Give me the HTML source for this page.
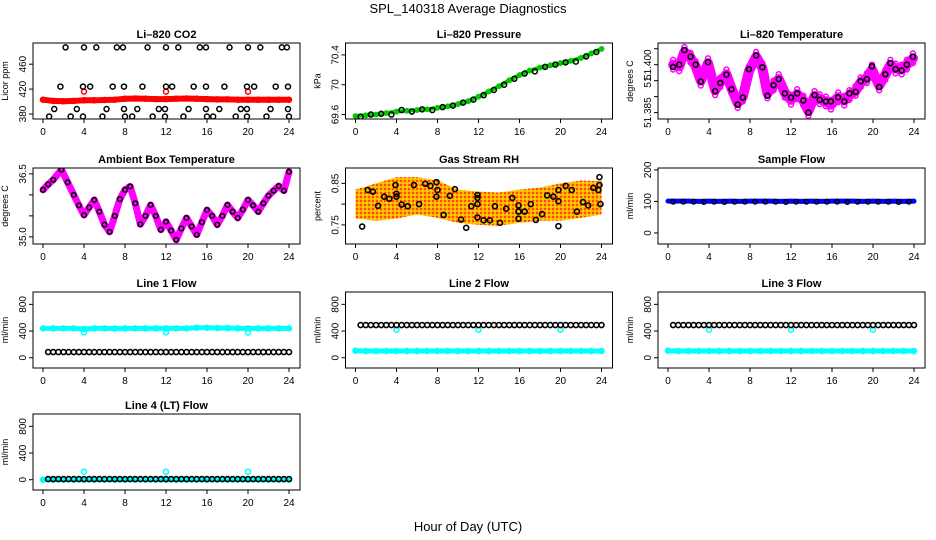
<!DOCTYPE html>
<html><head><meta charset="utf-8"><style>
body{margin:0;background:#fff}
svg{display:block;font-family:"Liberation Sans",sans-serif}
</style></head><body>
<svg id="c" width="936" height="540" viewBox="0 0 936 540">
<defs>
<pattern id="rhp" width="4" height="4" patternUnits="userSpaceOnUse"><rect width="4" height="4" fill="#ffb000"/><circle cx="1" cy="1" r="0.9" fill="#ff0000"/><circle cx="3" cy="3" r="0.7" fill="#ffee00"/></pattern>
</defs>
<text x="468" y="13" text-anchor="middle" font-size="13">SPL_140318  Average Diagnostics</text>
<text x="468" y="531" text-anchor="middle" font-size="13">Hour of Day (UTC)</text>
</svg>
<script>
// ---- data ----
const hours = [0,1,2,3,4,5,6,7,8,9,10,11,12,13,14,15,16,17,18,19,20,21,22,23,24];
const xTicks = [0,4,8,12,16,20,24];
const co2Red = [403,401,400.5,401,402,402,402.5,403,404.5,405,404.5,404,404,404.5,405,404.5,404,403.5,403.5,403,403,403,403,403,403];
const co2OutT = [4,12,20];
const co2OutV = [416,416,416];
const co2TopT = [2.2,4.0,5.2,7.2,7.8,10.2,12.0,13.2,15.3,15.9,18.2,20.0,21.2,23.3,23.8];
const co2MidT = [1.7,3.9,4.6,6.8,7.9,9.7,12.0,12.6,14.7,15.9,17.7,19.9,20.6,22.7,23.9];
const co2LowT = [1.1,3.3,6.2,7.9,9.2,11.3,11.9,14.2,15.9,17.2,19.3,19.9,22.2,23.9];
const co2BotT = [0.6,2.7,3.9,5.8,8.0,8.7,10.7,11.9,13.7,16.0,16.6,18.8,19.9,21.8,24.0];
const co2Levels = [487,424,388,376];
const co2Ticks = [380,420,460];
const presGreen = [69.58,69.59,69.60,69.62,69.64,69.65,69.66,69.67,69.69,69.71,69.74,69.78,69.84,69.91,69.98,70.06,70.13,70.19,70.23,70.26,70.29,70.32,70.36,70.42,70.48];
const presBlack = [69.57,69.60,69.61,69.60,69.66,69.64,69.67,69.66,69.70,69.72,69.76,69.80,69.86,69.93,70.00,70.08,70.15,70.18,70.24,70.27,70.30,70.31,70.38,70.44];
const presTicks = [69.6,70.0,70.4];
const tempT = [0.5,1.1,1.6,2.2,2.7,3.2,3.9,4.6,5.1,5.7,6.2,6.8,7.3,7.9,8.6,9.2,9.7,10.3,10.8,11.4,12.0,12.6,13.2,13.7,14.3,14.8,15.4,15.9,16.6,17.2,17.7,18.3,18.8,19.4,19.9,20.6,21.2,21.7,22.2,22.8,23.3,23.9];
const tempBlack = [51.3993,51.400,51.4046,51.4025,51.400,51.3947,51.4008,51.3917,51.3943,51.3969,51.3923,51.3875,51.3897,51.3986,51.4029,51.3992,51.3903,51.3936,51.3955,51.391,51.3897,51.391,51.3888,51.385,51.3905,51.389,51.3885,51.3885,51.3898,51.3885,51.391,51.3915,51.3948,51.3955,51.3995,51.393,51.397,51.4005,51.3986,51.3982,51.400,51.4025];
const tempMag = [51.400,51.3995,51.404,51.4022,51.3995,51.395,51.4005,51.392,51.3945,51.397,51.3925,51.388,51.390,51.398,51.4025,51.399,51.391,51.3935,51.3955,51.3912,51.389,51.3908,51.3888,51.3855,51.3902,51.3892,51.3885,51.3875,51.3898,51.3888,51.3905,51.3918,51.3945,51.3958,51.3985,51.3935,51.3968,51.4,51.3988,51.3985,51.4,51.402];
const tempTicks = [51.385,51.390,51.395,51.400,51.405];
const tempLabels = ["51.385","","51.","51.400",""];
const ambT = [0,0.5,1,1.8,2.4,3,3.5,4,4.5,5,5.5,6,6.5,7,7.5,8,8.5,9,9.5,10,10.5,11,11.5,12,12.5,13,13.5,14,14.5,15,15.5,16,16.5,17,17.5,18,18.5,19,19.5,20,20.5,21,21.5,22,22.5,23,23.5,24];
const ambV = [36.12,36.25,36.36,36.6,36.3,36.0,35.75,35.52,35.7,35.88,35.6,35.29,35.12,35.5,35.9,36.12,36.2,35.8,35.3,35.5,35.76,35.5,35.17,35.36,35.15,34.93,35.2,35.45,35.25,35.05,35.35,35.64,35.5,35.29,35.5,35.76,35.6,35.45,35.65,35.88,35.75,35.6,35.8,35.98,36.1,36.21,36.1,36.55];
const ambTicks = [35.0,35.5,36.0,36.5];
const ambLabels = ["35.0","","","36.5"];
const rhMeanT = [0,2,4,6,8,10,12,14,16,18,20,22,24];
const rhMean = [0.800,0.805,0.815,0.820,0.812,0.795,0.790,0.788,0.795,0.800,0.805,0.812,0.815];
const rhSpread = [0.035,0.045,0.05,0.045,0.045,0.04,0.04,0.04,0.04,0.04,0.045,0.045,0.04];
const rhT = [0.65,1.2,1.7,2.2,2.8,3.3,3.9,4.0,4.0,4.5,5.1,5.7,6.2,6.8,7.3,7.9,7.9,8.0,8.6,9.2,9.7,10.3,10.8,11.3,11.9,11.9,11.9,11.9,12.5,13.1,13.6,14.1,14.7,15.3,15.9,15.9,15.9,16.5,17.1,17.6,18.2,18.7,19.3,19.8,19.8,19.8,20.5,21.1,21.6,22.2,22.7,23.2,23.7,23.8,23.8,23.9];
const rhV = [0.746,0.834,0.830,0.796,0.818,0.813,0.846,0.825,0.818,0.799,0.795,0.846,0.80,0.849,0.844,0.853,0.818,0.834,0.774,0.82,0.836,0.763,0.743,0.795,0.768,0.822,0.80,0.815,0.761,0.761,0.795,0.755,0.789,0.815,0.782,0.797,0.765,0.782,0.80,0.762,0.776,0.821,0.818,0.747,0.807,0.834,0.844,0.834,0.782,0.805,0.797,0.839,0.834,0.865,0.846,0.80];
const rhTicks = [0.75,0.80,0.85];
const rhLabels = ["0.75","","0.85"];
const sampBlue = [101,101,101,100,101,100,101,100,101,101,101,100,101,100,101,100,101,101,101,100,101,100,101,100,101];
const sampBlack = [99,99,99,98,99,98,99,99,99,99,99,98,99,99,99,99,99,98,99,99,99,99,98,99];
const sampTicks = [0,100,200];
const flowTicks = [0,400,800];
const l1Cyan = [440,440,440,440,430,440,440,438,440,440,440,440,440,440,440,450,450,445,445,440,440,440,440,440,440];
const l1Black = [85,85,85,85,85,85,85,85,85,85,85,85,85,85,85,85,85,85,85,85,85,85,85,85];
const l2Black = [490,490,490,490,490,490,490,490,490,490,490,490,490,490,490,490,490,490,490,490,490,490,490,490];
const l2Cyan = [105,100,100,100,100,100,100,100,100,100,100,100,100,100,100,100,100,100,100,100,100,100,100,100,100];
const l3Black = [490,490,490,490,490,490,490,490,490,490,490,490,490,490,490,490,490,490,490,490,490,490,490,490];
const l3Cyan = [105,100,100,100,100,100,100,100,100,100,100,100,100,100,100,100,100,100,100,100,100,100,100,100,100];
const l4Black = [10,10,10,10,10,10,10,10,10,10,10,10,10,10,10,10,10,10,10,10,10,10,10,10];
const l4Cyan = [0,0,0,0,0,0,0,0,0,0,0,0,0,0,0,0,0,0,0,0,0,0,0,0,0];
const flowOutT = [4,12,20];
const l1Out = [380,380,380];
const l2Out = [420,420,420];
const l4Out = [120,120,120];
const halfT = [0.5,1.5,2.5,3.5,4.5,5.5,6.5,7.5,8.5,9.5,10.5,11.5,12.5,13.5,14.5,15.5,16.5,17.5,18.5,19.5,20.5,21.5,22.5,23.5];

// ---- drawing ----
const svg = document.getElementById('c');
const NS = 'http://www.w3.org/2000/svg';
const tops = [43,168,292,414];
function mk(tag, parent, attrs, name){
  const e = document.createElementNS(NS, tag);
  for (const k in attrs) e.setAttribute(k, attrs[k]);
  
  
  parent.appendChild(e);
  return e;
}
function panel(col,row,title,ytitle,ymin,ymax,yticks,ylabels,name){
  const L = 33 + col*312.5, T = tops[row], W = 267, H = 76;
  const g = mk('g', svg, {}, name);
  const P = {g, L, T, W, H,
    x: t => L + 10 + t*10.25,
    y: v => T + H - (v-ymin)/(ymax-ymin)*H};
  mk('text', g, {x:L+W/2, y:T-5, 'text-anchor':'middle', 'font-size':11, 'font-weight':'bold'}, name+'-title').textContent = title;
  const yl = mk('text', g, {x:0, y:0, 'text-anchor':'middle', 'font-size':9, transform:`translate(${L-25},${T+H/2}) rotate(-90)`}, name+'-y-title');
  yl.textContent = ytitle;
  xTicks.forEach(t => {
    mk('line', g, {x1:P.x(t), x2:P.x(t), y1:T+H, y2:T+H+4, stroke:'#000'}, 'x-tick');
    mk('text', g, {x:P.x(t), y:T+H+16, 'text-anchor':'middle', 'font-size':10}, 'x-tick-label').textContent = t;
  });
  yticks.forEach((v,i) => {
    const yy = P.y(v);
    mk('line', g, {x1:L-4, x2:L, y1:yy, y2:yy, stroke:'#000'}, 'y-tick');
    const lab = ylabels ? ylabels[i] : String(v);
    if (lab) mk('text', g, {x:0, y:0, 'text-anchor':'middle', 'font-size':10, transform:`translate(${L-7},${yy}) rotate(-90)`}, 'y-tick-label').textContent = lab;
  });
  const cp = mk('clipPath', g, {id:'cp'+name}, 'clip');
  mk('rect', cp, {x:L, y:T, width:W, height:H}, 'clip-rect');
  P.d = mk('g', g, {'clip-path':`url(#cp${name})`}, name+'-data');
  mk('rect', g, {x:L, y:T, width:W, height:H, fill:'none', stroke:'#000'}, name+'-frame');
  return P;
}
function pts(P, ts, vs, color, r, sw, name){
  ts.forEach((t,i) => {
    mk('circle', P.d, {cx:P.x(t), cy:P.y(vs[i]), r:r, fill:'none', stroke:color, 'stroke-width':sw}, name);
  });
}
function band(P, ts, vs, color, w, name){
  const d = ts.map((t,i) => `${P.x(t)},${P.y(vs[i])}`).join(' ');
  mk('polyline', P.d, {points:d, fill:'none', stroke:color, 'stroke-width':w, 'stroke-linejoin':'round', 'stroke-linecap':'round'}, name);
}

// CO2
let P = panel(0,0,'Li\u2013820 CO2','Licor ppm',372,494,co2Ticks,null,'co2-panel');
band(P, hours, co2Red, '#ff0000', 6, 'co2-red-band');
pts(P, hours, co2Red, '#ff0000', 2.5, 1.5, 'co2-red-point');
pts(P, co2OutT, co2OutV, '#ff0000', 2.5, 1.5, 'co2-red-outlier');
pts(P, co2TopT, co2TopT.map(()=>co2Levels[0]), '#000', 2.5, 1.5, 'co2-black-point');
pts(P, co2MidT, co2MidT.map(()=>co2Levels[1]), '#000', 2.5, 1.5, 'co2-black-point');
pts(P, co2LowT, co2LowT.map(()=>co2Levels[2]), '#000', 2.5, 1.5, 'co2-black-point');
pts(P, co2BotT, co2BotT.map(()=>co2Levels[3]), '#000', 2.5, 1.5, 'co2-black-point');

// Pressure
P = panel(1,0,'Li\u2013820 Pressure','kPa',69.54,70.56,presTicks,null,'pressure-panel');
band(P, hours, presGreen, '#00cc00', 4, 'pressure-green-band');
pts(P, hours, presGreen, '#00cc00', 2.3, 1.3, 'pressure-green-point');
pts(P, halfT, presBlack, '#000', 2.5, 1.5, 'pressure-black-point');

// Li-820 Temperature
P = panel(2,0,'Li\u2013820 Temperature','degrees C',51.3830,51.4068,tempTicks,tempLabels,'li820-temp-panel');
band(P, tempT, tempMag, '#ff00ff', 10, 'temp-magenta-band');
pts(P, tempT, tempMag.map(v=>v+0.0015), '#ff00ff', 2.5, 1.5, 'temp-magenta-point');
pts(P, tempT, tempMag.map(v=>v-0.0015), '#ff00ff', 2.5, 1.5, 'temp-magenta-point');
pts(P, tempT, tempBlack, '#000', 2.5, 1.6, 'temp-black-point');

// Ambient box temp
P = panel(0,1,'Ambient Box Temperature','degrees C',34.83,36.64,ambTicks,ambLabels,'ambient-temp-panel');
band(P, ambT, ambV, '#ff00ff', 7, 'ambient-magenta-band');
pts(P, ambT, ambV, '#000', 2.3, 1.5, 'ambient-black-point');

// RH
P = panel(1,1,'Gas Stream RH','percent',0.704,0.887,rhTicks,rhLabels,'rh-panel');
const up = rhMeanT.map((t,i)=>`${P.x(t)},${P.y(rhMean[i]+rhSpread[i])}`);
const dn = rhMeanT.map((t,i)=>`${P.x(t)},${P.y(rhMean[i]-rhSpread[i])}`).reverse();
mk('polygon', P.d, {points:up.concat(dn).join(' '), fill:'url(#rhp)'}, 'rh-orange-cloud');
pts(P, rhT, rhV, '#000', 2.5, 1.6, 'rh-black-point');

// Sample flow
P = panel(2,1,'Sample Flow','ml/min',-35,206,sampTicks,null,'sample-flow-panel');
band(P, hours, sampBlue, '#0000ff', 5, 'sample-blue-band');
pts(P, halfT, sampBlack, '#000', 2.3, 1.4, 'sample-black-point');

// Line flows
function flowPanel(col,row,title,name,cyan,black,outV){
  const Q = panel(col,row,title,'ml/min',-154,985,flowTicks,null,name);
  band(Q, hours, cyan, '#00ffff', 5, name+'-cyan-band');
  pts(Q, hours, cyan, '#00ffff', 2.5, 1.5, name+'-cyan-point');
  pts(Q, flowOutT, outV, '#00ffff', 2.5, 1.5, name+'-cyan-outlier');
  pts(Q, halfT, black, '#000', 2.5, 1.6, name+'-black-point');
  pts(Q, halfT.map(t=>t+0.5), black, '#000', 2.5, 1.6, name+'-black-point');
  return Q;
}
flowPanel(0,2,'Line 1 Flow','line1-flow-panel',l1Cyan,l1Black,l1Out);
flowPanel(1,2,'Line 2 Flow','line2-flow-panel',l2Cyan,l2Black,l2Out);
flowPanel(2,2,'Line 3 Flow','line3-flow-panel',l3Cyan,l3Black,l2Out);
flowPanel(0,3,'Line 4 (LT) Flow','line4-flow-panel',l4Cyan,l4Black,l4Out);
</script>
</body></html>
